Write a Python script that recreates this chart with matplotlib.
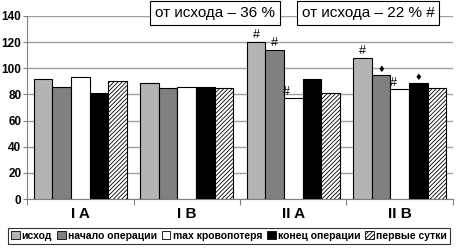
import numpy as np
import matplotlib.pyplot as plt
from matplotlib.patches import Patch

plt.rcParams['font.family'] = ['Liberation Sans', 'DejaVu Sans']
plt.rcParams['hatch.linewidth'] = 0.6

groups = ["I A", "I B", "II A", "II B"]
series = ["исход", "начало операции", "max кровопотеря", "конец операции", "первые сутки"]
values = [
    [92, 89, 120, 108],
    [86, 85, 114, 95],
    [93, 86, 77, 84],
    [81, 86, 92, 89],
    [90, 85, 81, 85],
]
# marks above bars: (series index, group index, symbol)
marks = [(0, 2, "#"), (1, 2, "#"), (2, 2, "#"),
         (0, 3, "#"), (1, 3, "\u2666"), (2, 3, "#"), (3, 3, "\u2666")]
boxes = ["от исхода – 36 %", "от исхода – 22 % #"]

colors = ["#b4b4b4", "#808080", "#ffffff", "#000000", "#ffffff"]
hatches = [None, None, None, None, "////////"]

fig = plt.figure(figsize=(4.58, 2.49), dpi=100)
ax = fig.add_axes([27 / 458, 50 / 249, 426 / 458, 183 / 249])

x = np.arange(len(groups))
w = 0.175
for i, name in enumerate(series):
    pos = x - 2 * w + i * w
    ax.bar(pos, values[i], w, color=colors[i], edgecolor="black", linewidth=0.8,
           hatch=hatches[i], label=name, zorder=3)

for si, gi, sym in marks:
    px = x[gi] - 2 * w + si * w
    dx = -0.06 if si == 2 else 0
    ax.text(px + dx, values[si][gi] + 0.5, sym, ha="center", va="bottom",
            fontsize=9 if sym == "#" else 8, zorder=4)

ax.set_xlim(-0.5, len(groups) - 0.5)
ax.set_ylim(0, 140)
ax.set_yticks(range(0, 141, 20))
ax.yaxis.grid(True, color="#a0a0a0", linewidth=1, zorder=0)
ax.set_xticks(np.arange(len(groups) + 1) - 0.5, minor=False)
ax.set_xticklabels([])
ax.tick_params(axis="x", length=4, color="#808080")
ax.tick_params(axis="y", length=3, color="#808080", labelsize=8.5, pad=1)
for lab in ax.get_yticklabels():
    lab.set_fontweight("bold")
for g, gx in zip(groups, x):
    ax.text(gx, -6, g, ha="center", va="top", fontsize=11, fontweight="bold")
for s in ["top", "right"]:
    ax.spines[s].set_visible(False)
ax.spines["left"].set_color("#808080")
ax.spines["bottom"].set_color("#808080")

box_x = [149, 296]
for bx, txt in zip(box_x, boxes):
    fig.text(bx / 458 + 0.013, 1 - 13 / 249, txt, ha="left", va="center", fontsize=11,
             bbox=dict(boxstyle="square,pad=0.3", facecolor="white", edgecolor="black", linewidth=0.8))

handles = [Patch(facecolor=colors[i], edgecolor="black", hatch=hatches[i], linewidth=0.6)
           for i in range(len(series))]
leg = fig.legend(handles, series, loc="lower center", bbox_to_anchor=(0.5, 0.0), ncol=5,
                 frameon=True, fancybox=False, edgecolor="black",
                 handlelength=0.8, handleheight=0.8, handletextpad=0.2, columnspacing=0.5,
                 borderpad=0.3, prop={"weight": "bold", "size": 7.5})
leg.get_frame().set_linewidth(0.8)

fig.savefig("out.png", dpi=100)
